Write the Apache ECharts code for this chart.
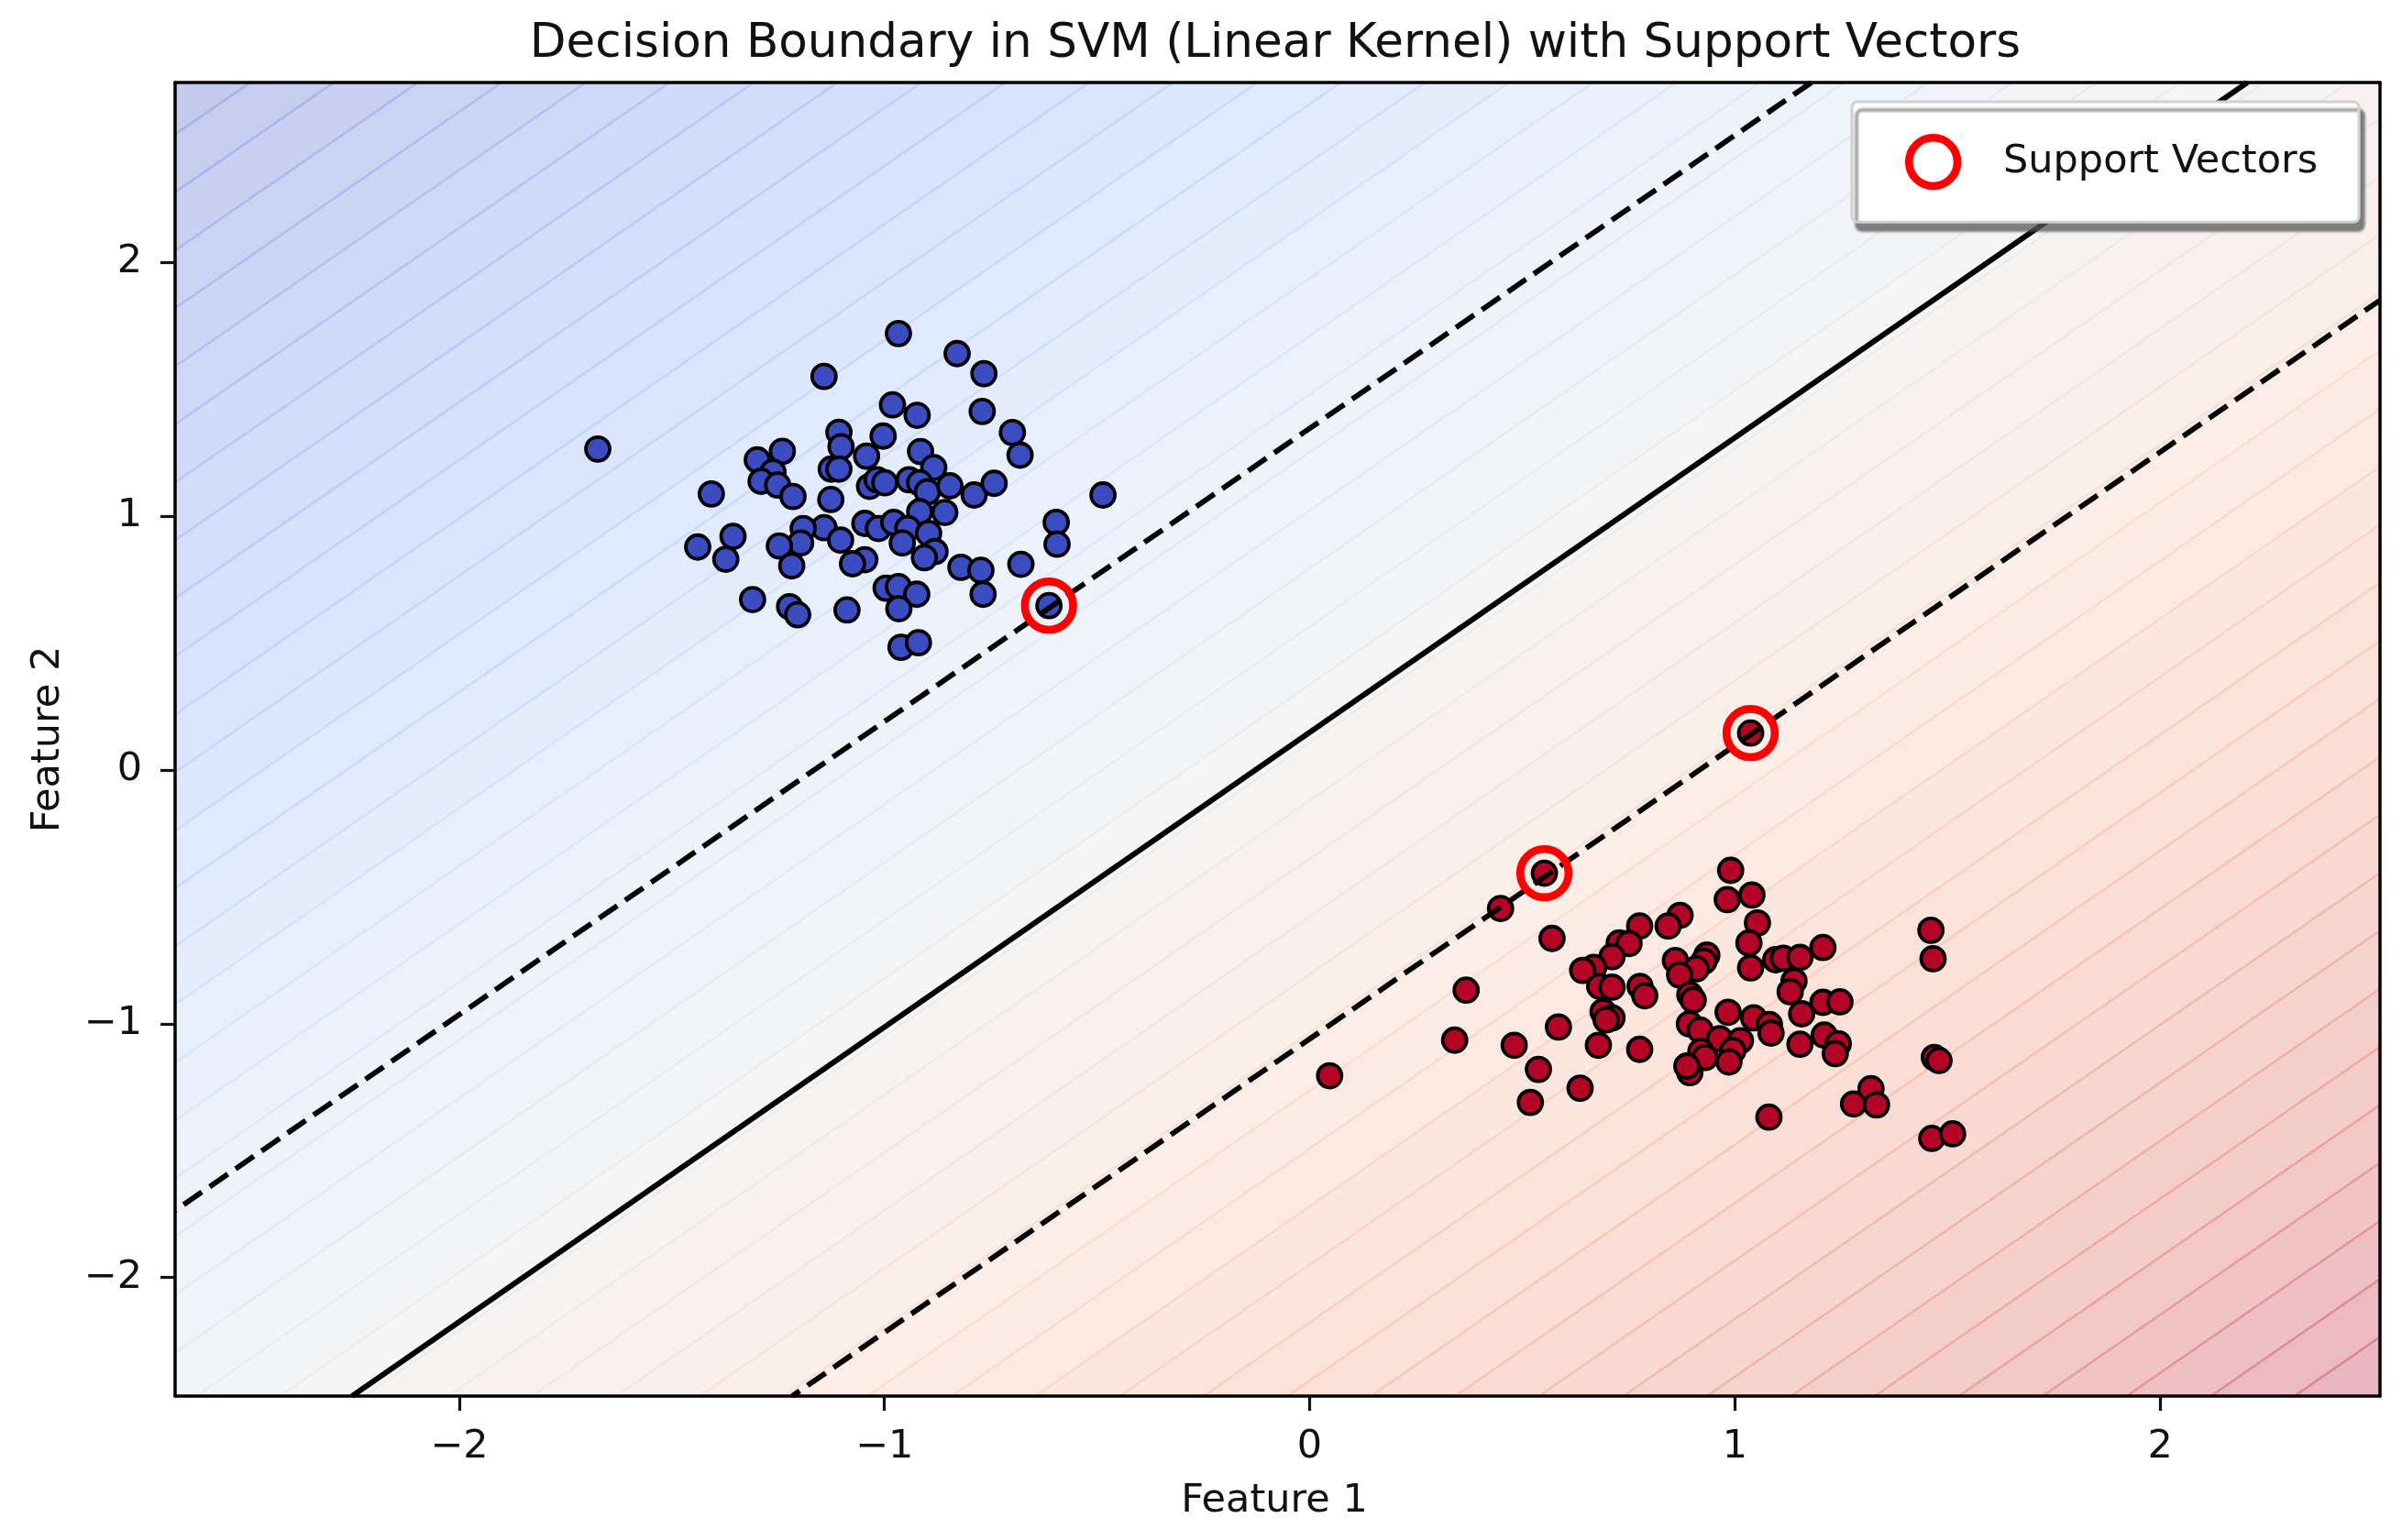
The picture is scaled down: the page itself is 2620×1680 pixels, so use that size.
<!DOCTYPE html>
<html>
<head>
<meta charset="utf-8">
<style>html,body{margin:0;padding:0;background:#fff}#c{width:2620px;height:1680px;filter:blur(0.7px)}</style>
<script src="https://cdn.jsdelivr.net/npm/echarts@6/dist/echarts.min.js"></script>
</head>
<body>
<div id="c"></div>
<script>
const titleText = 'Decision Boundary in SVM (Linear Kernel) with Support Vectors';
const xName = 'Feature 1';
const yName = 'Feature 2';
const legendName = 'Support Vectors';
const xTicks = [-2, -1, 0, 1, 2];
const yTicks = [-2, -1, 0, 1, 2];
const xRange = [-2.668, 2.517];
const yRange = [-2.467, 2.708];

const classBlue = [
[-1.107,1.330],[-1.102,1.273],[-1.003,1.315],[-1.240,1.255],[-1.299,1.221],[-1.262,1.173],[-1.290,1.137],[-1.251,1.122],
[-1.215,1.077],[-1.125,1.185],[-1.107,1.185],[-1.042,1.236],[-0.915,1.254],[-0.884,1.191],[-1.035,1.117],[-1.017,1.143],
[-0.999,1.131],[-0.942,1.143],[-0.917,1.131],[-0.899,1.095],[-0.846,1.119],[-0.789,1.083],[-0.742,1.129],[-1.126,1.065],
[-0.917,1.017],[-0.858,1.014],[-1.142,0.954],[-1.191,0.951],[-1.197,0.894],[-1.247,0.882],[-1.103,0.905],[-1.218,0.804],
[-1.046,0.971],[-1.014,0.951],[-0.978,0.975],[-0.945,0.951],[-0.958,0.894],[-0.896,0.932],[-0.881,0.860],[-0.906,0.836],
[-1.046,0.828],[-1.075,0.812],[-0.820,0.798],[-0.773,0.786],[-0.768,0.692],[-0.996,0.716],[-0.967,0.722],[-0.924,0.692],
[-0.966,0.635],[-1.310,0.671],[-1.223,0.643],[-1.674,1.264],[-0.967,1.719],[-0.829,1.640],[-0.766,1.561],[-1.142,1.550],
[-0.981,1.438],[-0.923,1.397],[-0.770,1.412],[-0.699,1.329],[-0.681,1.240],[-1.407,1.087],[-0.486,1.083],[-0.596,0.975],
[-0.594,0.889],[-1.356,0.920],[-1.439,0.878],[-1.373,0.830],[-0.679,0.810],[-1.204,0.611],[-1.088,0.630],[-0.961,0.483],
[-0.920,0.501],[-0.613,0.647]
];
const classRed = [
[0.570,-0.664],[0.776,-0.615],[0.871,-0.573],[0.843,-0.615],[1.053,-0.603],[0.982,-0.511],[1.040,-0.493],[1.033,-0.682],
[1.037,-0.780],[0.728,-0.682],[0.751,-0.684],[0.711,-0.736],[0.668,-0.778],[0.642,-0.790],[0.682,-0.853],[0.711,-0.856],
[0.777,-0.853],[0.788,-0.890],[0.860,-0.751],[0.934,-0.730],[0.927,-0.754],[0.909,-0.784],[0.870,-0.808],[0.894,-0.886],
[0.902,-0.907],[1.096,-0.748],[1.114,-0.742],[1.153,-0.739],[1.207,-0.700],[1.139,-0.832],[1.130,-0.874],[1.207,-0.916],
[1.247,-0.914],[1.157,-0.961],[0.984,-0.955],[1.044,-0.977],[1.081,-1.003],[1.085,-1.037],[0.690,-0.953],[0.711,-0.977],
[0.697,-0.985],[0.585,-1.013],[0.679,-1.085],[0.776,-1.101],[0.893,-1.001],[0.918,-1.025],[0.964,-1.059],[1.013,-1.067],
[0.920,-1.109],[0.930,-1.133],[0.995,-1.106],[0.986,-1.151],[0.894,-1.193],[0.887,-1.167],[1.153,-1.081],[1.210,-1.045],
[1.243,-1.079],[1.236,-1.118],[0.636,-1.254],[0.538,-1.180],[1.080,-1.368],[1.279,-1.316],[1.320,-1.256],[1.333,-1.320],
[0.552,-0.407],[0.449,-0.546],[0.368,-0.868],[0.341,-1.065],[0.481,-1.085],[0.047,-1.205],[0.519,-1.310],[0.990,-0.396],
[1.461,-0.632],[1.466,-0.744],[1.469,-1.133],[1.480,-1.145],[1.463,-1.452],[1.512,-1.434],[1.037,0.145]
];
const supportVectors = [[-0.613,0.647],[0.552,-0.407],[1.037,0.145]];

const boundaryLine = [[-2.252,-2.467],[2.205,2.708]];
const marginUpper = [[-2.668,-1.736],[1.180,2.708]];
const marginLower = [[-1.217,-2.467],[2.517,1.850]];

// decision function, read from the drawn boundary: f = (a*x - y + c) / m
const fnA = 1.158, fnC = 0.148, fnM = 1.206;
const contourLevels = [
-4.705,-4.515,-4.326,-4.136,-3.947,-3.757,-3.568,-3.378,-3.189,-2.999,
-2.810,-2.620,-2.431,-2.241,-2.052,-1.862,-1.673,-1.483,-1.294,-1.104,
-0.915,-0.725,-0.535,-0.346,-0.156,0.033,0.223,0.412,0.602,0.791,
0.981,1.170,1.360,1.549,1.739,1.928,2.118,2.307,2.497,2.686,
2.876,3.065,3.255,3.444,3.634,3.823,4.013,4.203,4.392,4.582
];
const coolwarm = [[59,76,192],[98,130,234],[141,176,254],[192,212,245],[221,221,221],[245,196,173],[244,152,122],[221,96,76],[180,4,38]];
const fillAlpha = 0.3;

function cw(t){
  t = Math.max(0, Math.min(1, t)) * (coolwarm.length - 1);
  const i = Math.min(Math.floor(t), coolwarm.length - 2), u = t - i;
  return coolwarm[i].map((v, j) => v + (coolwarm[i + 1][j] - v) * u);
}
function f(p){ return (fnA * p[0] - p[1] + fnC) / fnM; }
function clip(poly, level, keepAbove){
  const out = [];
  for (let i = 0; i < poly.length; i++){
    const a = poly[i], b = poly[(i + 1) % poly.length];
    const fa = f(a) - level, fb = f(b) - level;
    const ia = keepAbove ? fa >= 0 : fa <= 0, ib = keepAbove ? fb >= 0 : fb <= 0;
    if (ia) out.push(a);
    if (ia !== ib){
      const u = fa / (fa - fb);
      out.push([a[0] + (b[0] - a[0]) * u, a[1] + (b[1] - a[1]) * u]);
    }
  }
  return out;
}
const rect = [[xRange[0],yRange[0]],[xRange[1],yRange[0]],[xRange[1],yRange[1]],[xRange[0],yRange[1]]];
const lMin = contourLevels[0], lMax = contourLevels[contourLevels.length - 1];

function bandItem(params, api){
  const k = api.value(0);
  const lo = contourLevels[k], hi = contourLevels[k + 1];
  let poly = rect;
  if (k > 0) poly = clip(poly, lo, true);
  if (k < contourLevels.length - 2) poly = clip(poly, hi, false);
  const c = cw(((lo + hi) / 2 - lMin) / (lMax - lMin));
  const solid = c.map(v => Math.round(255 * (1 - fillAlpha) + v * fillAlpha));
  const children = [];
  if (poly.length > 2) children.push({type:'polygon', shape:{points: poly.map(p => api.coord(p))},
    style:{fill:'rgb(' + solid.join(',') + ')', stroke:'rgb(' + solid.join(',') + ')', lineWidth:1}});
  return {type:'group', children};
}
function seamItem(params, api){
  const k = api.value(0);
  const lvl = contourLevels[k];
  const seg = [];
  for (let i = 0; i < 4; i++){
    const a = rect[i], b = rect[(i + 1) % 4];
    const fa = f(a) - lvl, fb = f(b) - lvl;
    if ((fa >= 0) !== (fb >= 0)){
      const u = fa / (fa - fb);
      seg.push([a[0] + (b[0] - a[0]) * u, a[1] + (b[1] - a[1]) * u]);
    }
  }
  if (seg.length < 2) return null;
  const t = (lvl - lMin) / (lMax - lMin);
  const c = cw(t < 0.3 ? t + 0.08 * (1 - t / 0.3) : t).map(Math.round);
  const p0 = api.coord(seg[0]), p1 = api.coord(seg[1]);
  return {type:'line', shape:{x1:p0[0], y1:p0[1], x2:p1[0], y2:p1[1]},
    style:{stroke:'rgba(' + c.join(',') + ',' + fillAlpha + ')', lineWidth:2.5}};
}

const font = 'DejaVu Sans';
const txt = '#111';
const minus = v => String(v).replace('-', '\u2212');
function axisBase(ticks, range, margin){
  return {
    type:'value', min:range[0], max:range[1], z:6, splitLine:{show:false},
    axisLine:{show:true, onZero:false, lineStyle:{color:'#000', width:3.5}},
    axisTick:{show:true, length:16, inside:false, lineStyle:{color:'#111', width:3.2}, customValues:ticks},
    axisLabel:{show:true, fontFamily:font, fontSize:43, color:txt, margin:margin, customValues:ticks, formatter:minus}
  };
}
const hiddenAxis = (pos, range) => ({type:'value', position:pos, min:range[0], max:range[1], z:6, splitLine:{show:false},
  axisLine:{show:true, onZero:false, lineStyle:{color:'#000', width:3.5}}, axisTick:{show:false}, axisLabel:{show:false}});

const chart = echarts.init(document.getElementById('c'), null, {renderer:'canvas', width:2620, height:1680});
const lineBase = {type:'line', showSymbol:false, symbol:'none', silent:true, z:4, animation:false, legendHoverLink:false};
chart.setOption({
  animation:false,
  backgroundColor:'#fff',
  title:{text:titleText, left:1386, top:18, textAlign:'center',
    textStyle:{fontFamily:font, fontSize:51.6, fontWeight:'normal', color:txt}},
  grid:{left:191, right:24, top:90, bottom:157, containLabel:false},
  legend:{
    data:[{name:legendName, icon:'circle', itemStyle:{color:'rgba(0,0,0,0)', borderColor:'#ff0000', borderWidth:8.6}}],
    left:2020, top:111, padding:[35,45,35,58], itemWidth:52.7, itemHeight:52.7, z:10, selectedMode:false,
    backgroundColor:'#fff', borderColor:'#d0d0d0', borderWidth:3, borderRadius:6,
    shadowColor:'rgba(90,90,90,0.75)', shadowBlur:3, shadowOffsetX:5, shadowOffsetY:9,
    textStyle:{fontFamily:font, fontSize:43, color:txt, padding:[0,0,0,45]}
  },
  xAxis:[Object.assign(axisBase(xTicks, xRange, 34), {position:'bottom', name:xName, nameLocation:'middle', nameGap:93,
    nameTextStyle:{fontFamily:font, fontSize:43, color:txt, padding:[0,7,0,0]}}), hiddenAxis('top', xRange)],
  yAxis:[Object.assign(axisBase(yTicks, yRange, 36), {position:'left', name:yName, nameLocation:'middle', nameGap:117,
    nameTextStyle:{fontFamily:font, fontSize:43, color:txt}}), hiddenAxis('right', yRange)],
  series:[
    {type:'custom', name:'bands', silent:true, z:1, clip:true, renderItem:bandItem,
      data:contourLevels.slice(0, -1).map((v, i) => [i])},
    {type:'custom', name:'levels', silent:true, z:2, clip:true, renderItem:seamItem,
      data:contourLevels.map((v, i) => [i])},
    {type:'scatter', name:'Class 0', data:classBlue, symbolSize:26, z:3, silent:true,
      itemStyle:{color:'#3b4cc0', borderColor:'#000', borderWidth:3.8, opacity:1}},
    {type:'scatter', name:'Class 1', data:classRed, symbolSize:26, z:3, silent:true,
      itemStyle:{color:'#b40426', borderColor:'#000', borderWidth:3.8, opacity:1}},
    Object.assign({}, lineBase, {name:'boundary', data:boundaryLine, lineStyle:{color:'#000', width:5.8}}),
    Object.assign({}, lineBase, {name:'margin+', data:marginUpper, lineStyle:{color:'#000', width:5.8, type:[24,10.4], dashOffset:23}}),
    Object.assign({}, lineBase, {name:'margin-', data:marginLower, lineStyle:{color:'#000', width:5.8, type:[24,10.4], dashOffset:14}}),
    {type:'scatter', name:legendName, data:supportVectors, symbolSize:52.7, z:5, silent:true,
      itemStyle:{color:'rgba(0,0,0,0)', borderColor:'#ff0000', borderWidth:8.6, opacity:1}}
  ]
});
</script>
</body>
</html>
